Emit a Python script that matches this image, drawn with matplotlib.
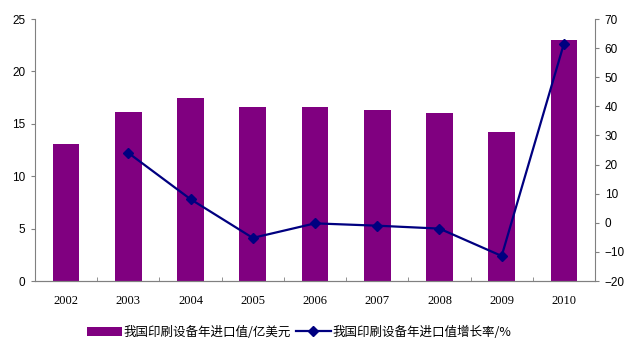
import matplotlib.pyplot as plt
import numpy as np

plt.rcParams['font.family'] = ['Liberation Sans', 'DejaVu Sans']

years = ['2002', '2003', '2004', '2005', '2006', '2007', '2008', '2009', '2010']
import_value = [13.05, 16.13, 17.46, 16.6, 16.6, 16.3, 16.03, 14.2, 23.0]
growth_years = ['2003', '2004', '2005', '2006', '2007', '2008', '2009', '2010']
growth_rate = [24.0, 8.1, -5.2, -0.2, -1.0, -2.0, -11.4, 61.5]

fig = plt.figure(figsize=(6.27, 3.40), dpi=100)
ax = fig.add_axes([35 / 627, 59 / 340, 560 / 627, 262 / 340])
ax2 = ax.twinx()

x = np.arange(len(years))
bars = ax.bar(x, import_value, width=0.43, color='#800080', label='我国印刷设备年进口值/亿美元')
gx = [years.index(y) for y in growth_years]
line, = ax2.plot(gx, growth_rate, color='#000080', lw=1.6, marker='D', ms=5.5,
                 label='我国印刷设备年进口值增长率/%')

ax.set_xlim(-0.5, len(years) - 0.5)
ax.set_ylim(0, 25)
ax.set_yticks(range(0, 26, 5))
ax2.set_ylim(-20, 70)
ax2.set_yticks(range(-20, 71, 10))

# 坐标轴样式
for a in (ax, ax2):
    for s in a.spines.values():
        s.set_visible(False)
    a.spines['bottom'].set_visible(True)
    a.spines['bottom'].set_color('#808080')
ax.spines['left'].set_visible(True)
ax.spines['left'].set_color('#808080')
ax2.spines['right'].set_visible(True)
ax2.spines['right'].set_color('#808080')

ax.tick_params(axis='y', labelsize=8.5, color='#808080', length=3, pad=4)
ax2.tick_params(axis='y', labelsize=8.5, color='#808080', length=3, pad=4)
ax.set_xticks(x)
ax.set_xticklabels(years, fontsize=9, family=['Liberation Serif'])
ax.tick_params(axis='x', length=0, pad=10)
ax.set_xticks(np.arange(0.5, len(years) - 1, 1), minor=True)
ax.tick_params(axis='x', which='minor', direction='in', length=3, color='#808080')

fig.legend(handles=[bars, line], loc='center', bbox_to_anchor=(0.477, 8 / 340),
           ncol=2, frameon=False, handlelength=2.8, handletextpad=0.1, columnspacing=0.4,
           prop={'family': ['Noto Sans CJK SC', 'DejaVu Sans'], 'size': 9})

fig.savefig('out.png', dpi=100)
